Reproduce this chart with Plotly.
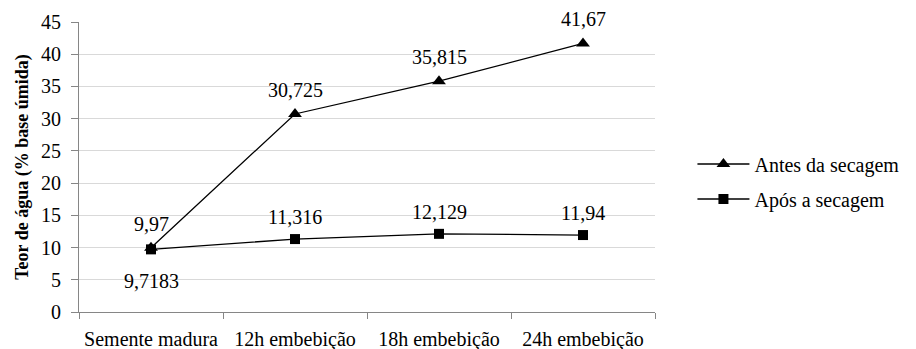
import plotly.graph_objects as go

categories = ["Semente madura", "12h embebição", "18h embebição", "24h embebição"]
antes = [9.97, 30.725, 35.815, 41.67]
apos = [9.7183, 11.316, 12.129, 11.94]
y_ticks = [0, 5, 10, 15, 20, 25, 30, 35, 40, 45]

FONT = "Liberation Serif"


def fmt(v):
    return f"{v:g}".replace(".", ",")


fig = go.Figure()

fig.add_trace(go.Scatter(
    x=categories, y=antes, name="Antes da secagem", mode="lines+markers",
    line=dict(color="black", width=1.3),
    marker=dict(symbol="triangle-up", size=12, color="black"),
    legendgroup="a",
))
fig.add_trace(go.Scatter(
    x=categories, y=apos, name="Após a secagem", mode="lines+markers",
    line=dict(color="black", width=1.3),
    marker=dict(symbol="square", size=10, color="black"),
    legendgroup="b",
))

# value labels: above the points, except the first "após" value which sits below
annotations = []
for c, v in zip(categories, antes):
    annotations.append(dict(x=c, y=v, text=fmt(v), showarrow=False,
                            yshift=24, font=dict(family=FONT, size=20, color="black")))
for i, (c, v) in enumerate(zip(categories, apos)):
    shift = -32 if i == 0 else 22
    annotations.append(dict(x=c, y=v, text=fmt(v), showarrow=False,
                            yshift=shift, font=dict(family=FONT, size=20, color="black")))

fig.update_layout(
    width=916, height=349,
    margin=dict(l=79, r=255, t=22, b=37),
    paper_bgcolor="white", plot_bgcolor="white",
    font=dict(family=FONT, size=20, color="black"),
    annotations=annotations,
    showlegend=True,
    legend=dict(x=1.065, y=0.45, xanchor="left", yanchor="middle",
                font=dict(family=FONT, size=20, color="black"),
                traceorder="grouped", tracegroupgap=6,
                bgcolor="rgba(0,0,0,0)", itemwidth=52),
)

fig.update_xaxes(
    type="category", range=[-0.5, 3.5], tickson="boundaries",
    ticks="outside", ticklen=6, tickcolor="#868686",
    showline=True, linecolor="#868686", linewidth=1,
    showgrid=False, zeroline=False, ticklabelstandoff=9, automargin=False,
    tickfont=dict(family=FONT, size=20, color="black"),
)
fig.update_yaxes(
    range=[0, 45], tickvals=y_ticks, ticks="outside", ticklen=7, tickcolor="#868686",
    showline=True, linecolor="#868686", linewidth=1,
    showgrid=True, gridcolor="#d9d9d9", gridwidth=1.3, zeroline=False,
    ticklabelstandoff=6, automargin=False,
    tickfont=dict(family=FONT, size=20, color="black"),
    title=dict(text="<b>Teor de água (% base úmida)</b>", standoff=7,
               font=dict(family=FONT, size=18, color="black")),
)

fig.write_html("out.html")
